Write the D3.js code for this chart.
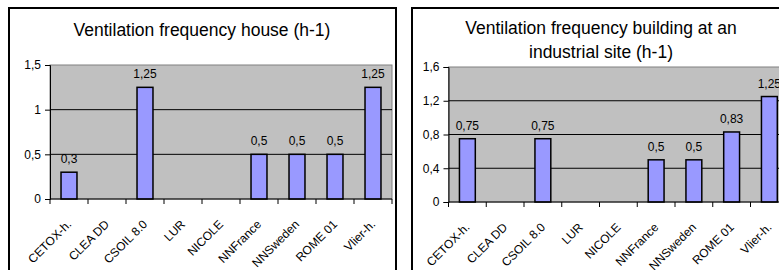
<!DOCTYPE html>
<html>
<head>
<meta charset="utf-8">
<script src="https://cdn.jsdelivr.net/npm/d3@7"></script>
<style>
  body { margin: 0; background: #fff; }
  svg { display: block; font-family: Arial, "Liberation Sans", sans-serif; }
</style>
</head>
<body>
<svg id="chart" width="779" height="270"></svg>
<script>
// data
const categories = ["CETOX-h.", "CLEA DD", "CSOIL 8.0", "LUR", "NICOLE", "NNFrance", "NNSweden", "ROME 01", "Vlier-h."];
const houseValues = [0.3, 0, 1.25, 0, 0, 0.5, 0.5, 0.5, 1.25];
const industryValues = [0.75, 0, 0.75, 0, 0, 0.5, 0.5, 0.83, 1.25];
const houseTicks = [0, 0.5, 1, 1.5];
const industryTicks = [0, 0.4, 0.8, 1.2, 1.6];
const houseTitle = ["Ventilation frequency house (h-1)"];
const industryTitle = ["Ventilation frequency building at an", "industrial site (h-1)"];

const comma = d3.formatLocale({ decimal: ",", thousands: ".", grouping: [3], currency: ["", ""] }).format("~g");

const svg = d3.select("#chart");

function panel(opts) {
  const g = svg.append("g");

  // outer frame
  g.append("rect")
    .attr("x", opts.frame[0]).attr("y", opts.frame[1])
    .attr("width", opts.frame[2]).attr("height", opts.frame[3])
    .attr("fill", "#fff").attr("stroke", "#000").attr("stroke-width", 2);

  // title
  const t = g.append("text")
    .attr("text-anchor", "middle")
    .attr("font-size", 17.5)
    .attr("fill", "#000");
  opts.title.forEach((line, i) => {
    t.append("tspan")
      .attr("x", opts.titleX)
      .attr("y", opts.titleY + i * 24)
      .text(line);
  });

  const x = d3.scaleBand()
    .domain(categories)
    .range([opts.left, opts.right])
    .padding(0);

  const y = d3.scaleLinear()
    .domain([0, d3.max(opts.ticks)])
    .range([opts.bottom, opts.top]);

  // plot area
  g.append("rect")
    .attr("x", opts.left).attr("y", opts.top)
    .attr("width", opts.right - opts.left).attr("height", opts.bottom - opts.top)
    .attr("fill", "#c0c0c0").attr("stroke", "#808080").attr("stroke-width", 1);

  // gridlines
  g.append("g")
    .selectAll("line")
    .data(opts.ticks.filter(d => d > 0 && d < d3.max(opts.ticks)))
    .join("line")
    .attr("x1", opts.left).attr("x2", opts.right)
    .attr("y1", d => y(d)).attr("y2", d => y(d))
    .attr("stroke", "#000").attr("stroke-width", 1);

  // y axis
  const yAxis = g.append("g")
    .attr("transform", `translate(${opts.left},0)`)
    .call(d3.axisLeft(y).tickValues(opts.ticks).tickFormat(comma).tickSize(5).tickPadding(4));
  yAxis.selectAll("text").attr("font-size", 12).attr("fill", "#000").attr("font-family", null);
  yAxis.select(".domain").attr("stroke", "#000");

  // bars
  const barW = x.bandwidth() * 0.42;
  g.append("g")
    .selectAll("rect")
    .data(opts.values.map((v, i) => ({ c: categories[i], v })).filter(d => d.v > 0))
    .join("rect")
    .attr("x", d => x(d.c) + (x.bandwidth() - barW) / 2)
    .attr("y", d => y(d.v))
    .attr("width", barW)
    .attr("height", d => y(0) - y(d.v))
    .attr("fill", "#9999ff")
    .attr("stroke", "#000")
    .attr("stroke-width", 1.5);

  // value labels
  g.append("g")
    .selectAll("text")
    .data(opts.values.map((v, i) => ({ c: categories[i], v })).filter(d => d.v > 0))
    .join("text")
    .attr("x", d => x(d.c) + x.bandwidth() / 2)
    .attr("y", d => y(d.v) - 9)
    .attr("text-anchor", "middle")
    .attr("font-size", 12)
    .attr("fill", "#000")
    .text(d => comma(d.v));

  // x axis line + ticks at band edges
  const xg = g.append("g");
  xg.append("line")
    .attr("x1", opts.left).attr("x2", opts.right)
    .attr("y1", y(0)).attr("y2", y(0))
    .attr("stroke", "#000");
  xg.selectAll("line.tk")
    .data(categories.concat([null]))
    .join("line")
    .attr("class", "tk")
    .attr("x1", d => d === null ? opts.right : x(d))
    .attr("x2", d => d === null ? opts.right : x(d))
    .attr("y1", y(0)).attr("y2", y(0) + 5)
    .attr("stroke", "#000");

  // rotated category labels
  xg.selectAll("text")
    .data(categories)
    .join("text")
    .attr("text-anchor", "end")
    .attr("font-size", 12)
    .attr("fill", "#000")
    .attr("transform", d => `translate(${x(d) + x.bandwidth() / 2 + 3},${y(0) + 26}) rotate(-45)`)
    .text(d => d);
}

panel({
  frame: [9, 8, 387, 290],
  title: houseTitle, titleX: 202, titleY: 36,
  left: 50, right: 392, top: 65, bottom: 199,
  ticks: houseTicks, values: houseValues
});

panel({
  frame: [412, 8, 400, 290],
  title: industryTitle, titleX: 601, titleY: 34,
  left: 448.5, right: 788.25, top: 67, bottom: 202,
  ticks: industryTicks, values: industryValues
});
</script>
</body>
</html>
